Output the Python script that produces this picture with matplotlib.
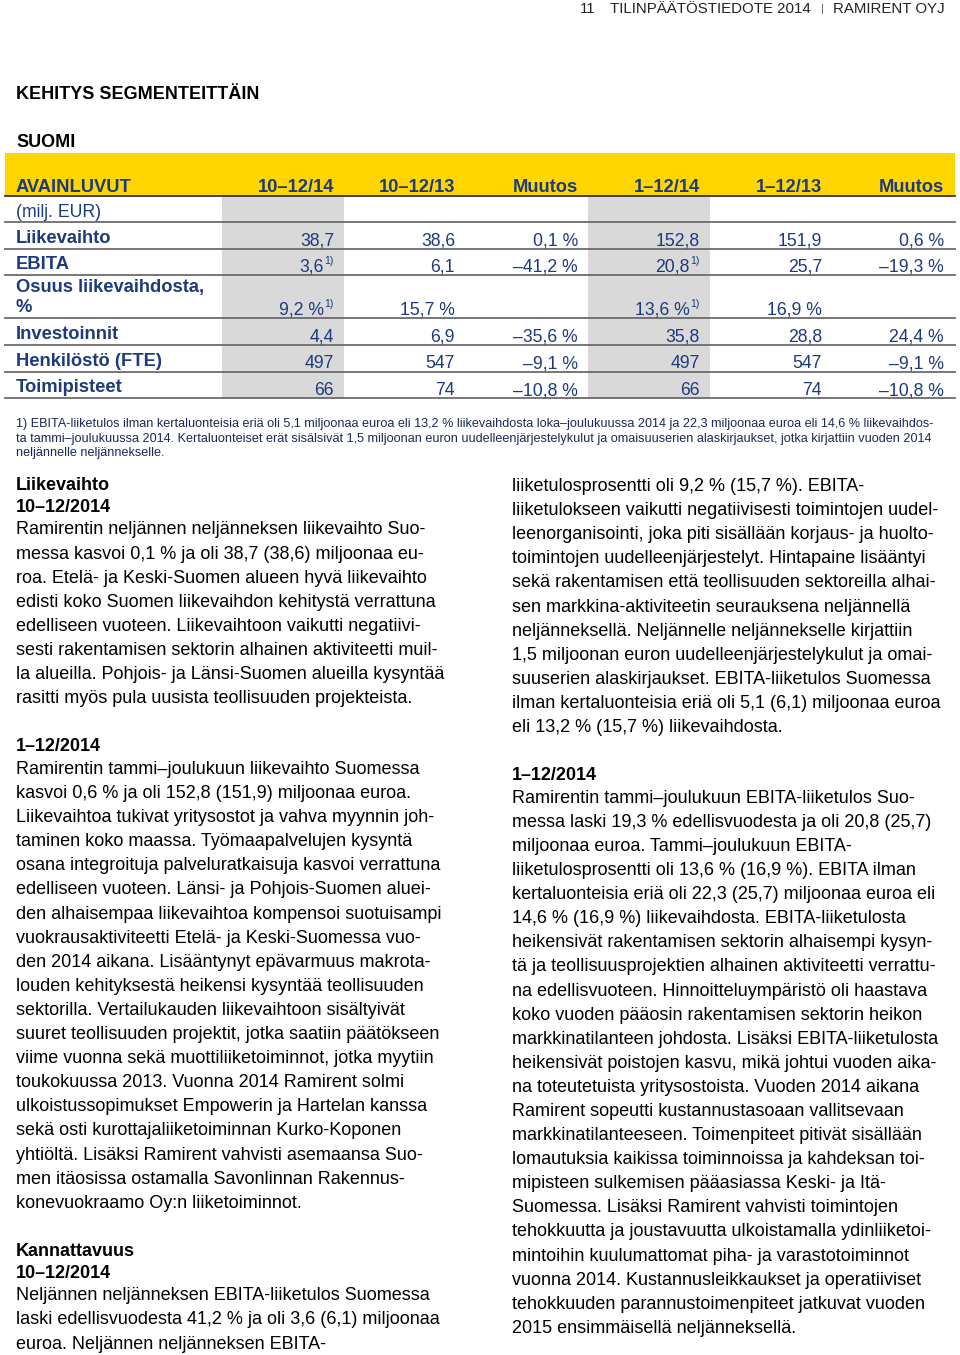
import matplotlib
matplotlib.use("Agg")
import matplotlib.pyplot as plt

FONT = "Liberation Sans"
NAVY = "#1c3a7c"
YELLOW = "#ffd600"
SHADE = "#d9d9d9"

# ---- table data ----
col_heads = ["10–12/14", "10–12/13", "Muutos", "1–12/14", "1–12/13", "Muutos"]
row_labels = ["Liikevaihto", "EBITA", "Osuus liikevaihdosta,\n%", "Investoinnit",
              "Henkilöstö (FTE)", "Toimipisteet"]
row_kind = ["num", "num", "pct", "num", "int", "int"]
q4_2014 = [38.7, 3.6, 9.2, 4.4, 497, 66]
q4_2013 = [38.6, 6.1, 15.7, 6.9, 547, 74]
q4_change = [0.1, -41.2, None, -35.6, -9.1, -10.8]
fy_2014 = [152.8, 20.8, 13.6, 35.8, 497, 66]
fy_2013 = [151.9, 25.7, 16.9, 28.8, 547, 74]
fy_change = [0.6, -19.3, None, 24.4, -9.1, -10.8]
has_footnote = [False, True, True, False, False, False]  # "1)" on 2014 columns

footnote = [
    "1) EBITA-liiketulos ilman kertaluonteisia eriä oli 5,1 miljoonaa euroa eli 13,2 % liikevaihdosta loka–joulukuussa 2014 ja 22,3 miljoonaa euroa eli 14,6 % liikevaihdos-",
    "ta tammi–joulukuussa 2014. Kertaluonteiset erät sisälsivät 1,5 miljoonan euron uudelleenjärjestelykulut ja omaisuuserien alaskirjaukset, jotka kirjattiin vuoden 2014",
    "neljännelle neljännekselle.",
]

# ---- body text ('#' = bold heading, '' = blank line) ----
left_text = [
    "#Liikevaihto",
    "#10–12/2014",
    "Ramirentin neljännen neljänneksen liikevaihto Suo-",
    "messa kasvoi 0,1 % ja oli 38,7 (38,6) miljoonaa eu-",
    "roa. Etelä- ja Keski-Suomen alueen hyvä liikevaihto",
    "edisti koko Suomen liikevaihdon kehitystä verrattuna",
    "edelliseen vuoteen. Liikevaihtoon vaikutti negatiivi-",
    "sesti rakentamisen sektorin alhainen aktiviteetti muil-",
    "la alueilla. Pohjois- ja Länsi-Suomen alueilla kysyntää",
    "rasitti myös pula uusista teollisuuden projekteista.",
    "",
    "#1–12/2014",
    "Ramirentin tammi–joulukuun liikevaihto Suomessa",
    "kasvoi 0,6 % ja oli 152,8 (151,9) miljoonaa euroa.",
    "Liikevaihtoa tukivat yritysostot ja vahva myynnin joh-",
    "taminen koko maassa. Työmaapalvelujen kysyntä",
    "osana integroituja palveluratkaisuja kasvoi verrattuna",
    "edelliseen vuoteen. Länsi- ja Pohjois-Suomen aluei-",
    "den alhaisempaa liikevaihtoa kompensoi suotuisampi",
    "vuokrausaktiviteetti Etelä- ja Keski-Suomessa vuo-",
    "den 2014 aikana. Lisääntynyt epävarmuus makrota-",
    "louden kehityksestä heikensi kysyntää teollisuuden",
    "sektorilla. Vertailukauden liikevaihtoon sisältyivät",
    "suuret teollisuuden projektit, jotka saatiin päätökseen",
    "viime vuonna sekä muottiliiketoiminnot, jotka myytiin",
    "toukokuussa 2013. Vuonna 2014 Ramirent solmi",
    "ulkoistussopimukset Empowerin ja Hartelan kanssa",
    "sekä osti kurottajaliiketoiminnan Kurko-Koponen",
    "yhtiöltä. Lisäksi Ramirent vahvisti asemaansa Suo-",
    "men itäosissa ostamalla Savonlinnan Rakennus-",
    "konevuokraamo Oy:n liiketoiminnot.",
    "",
    "#Kannattavuus",
    "#10–12/2014",
    "Neljännen neljänneksen EBITA-liiketulos Suomessa",
    "laski edellisvuodesta 41,2 % ja oli 3,6 (6,1) miljoonaa",
    "euroa. Neljännen neljänneksen EBITA-",
]

right_text = [
    "liiketulosprosentti oli 9,2 % (15,7 %). EBITA-",
    "liiketulokseen vaikutti negatiivisesti toimintojen uudel-",
    "leenorganisointi, joka piti sisällään korjaus- ja huolto-",
    "toimintojen uudelleenjärjestelyt. Hintapaine lisääntyi",
    "sekä rakentamisen että teollisuuden sektoreilla alhai-",
    "sen markkina-aktiviteetin seurauksena neljännellä",
    "neljänneksellä. Neljännelle neljännekselle kirjattiin",
    "1,5 miljoonan euron uudelleenjärjestelykulut ja omai-",
    "suuserien alaskirjaukset. EBITA-liiketulos Suomessa",
    "ilman kertaluonteisia eriä oli 5,1 (6,1) miljoonaa euroa",
    "eli 13,2 % (15,7 %) liikevaihdosta.",
    "",
    "#1–12/2014",
    "Ramirentin tammi–joulukuun EBITA-liiketulos Suo-",
    "messa laski 19,3 % edellisvuodesta ja oli 20,8 (25,7)",
    "miljoonaa euroa. Tammi–joulukuun EBITA-",
    "liiketulosprosentti oli 13,6 % (16,9 %). EBITA ilman",
    "kertaluonteisia eriä oli 22,3 (25,7) miljoonaa euroa eli",
    "14,6 % (16,9 %) liikevaihdosta. EBITA-liiketulosta",
    "heikensivät rakentamisen sektorin alhaisempi kysyn-",
    "tä ja teollisuusprojektien alhainen aktiviteetti verrattu-",
    "na edellisvuoteen. Hinnoitteluympäristö oli haastava",
    "koko vuoden pääosin rakentamisen sektorin heikon",
    "markkinatilanteen johdosta. Lisäksi EBITA-liiketulosta",
    "heikensivät poistojen kasvu, mikä johtui vuoden aika-",
    "na toteutetuista yritysostoista. Vuoden 2014 aikana",
    "Ramirent sopeutti kustannustasoaan vallitsevaan",
    "markkinatilanteeseen. Toimenpiteet pitivät sisällään",
    "lomautuksia kaikissa toiminnoissa ja kahdeksan toi-",
    "mipisteen sulkemisen pääasiassa Keski- ja Itä-",
    "Suomessa. Lisäksi Ramirent vahvisti toimintojen",
    "tehokkuutta ja joustavuutta ulkoistamalla ydinliiketoi-",
    "mintoihin kuulumattomat piha- ja varastotoiminnot",
    "vuonna 2014. Kustannusleikkaukset ja operatiiviset",
    "tehokkuuden parannustoimenpiteet jatkuvat vuoden",
    "2015 ensimmäisellä neljänneksellä.",
]


def fmt(v, kind):
    if v is None:
        return ""
    if kind == "int":
        return str(int(v))
    s = f"{abs(v):.1f}".replace(".", ",")
    if v < 0:
        s = "–" + s
    if kind == "pct":
        s += " %"
    return s


def draw_column(ax, x, lines, y0, size=13):
    steps = {("h", "h"): 22, ("h", "p"): 22.5, ("p", "p"): 24.1, ("p", "h"): 24.1}
    y = y0
    prev = None
    for line in lines:
        if line == "":
            y += 24.1
            continue
        kind = "h" if line.startswith("#") else "p"
        if prev is not None:
            y += steps[(prev, kind)]
        ax.text(x, y, line.lstrip("#"), fontsize=size, family=FONT, va="baseline",
                fontweight="bold" if kind == "h" else "normal", color="black")
        prev = kind


fig = plt.figure(figsize=(9.6, 13.55), dpi=100)
ax = fig.add_axes([0, 0, 1, 1])
ax.set_xlim(0, 960)
ax.set_ylim(1355, 0)
ax.axis("off")

# page header
hdr = dict(fontsize=10.8, family=FONT, color="#222222", va="baseline")
ax.text(580, 13, "11", **hdr)
ax.text(610, 13, "TILINPÄÄTÖSTIEDOTE 2014", **hdr)
ax.text(821, 12, "|", fontsize=8, family=FONT, color="#555555", va="baseline")
ax.text(945, 13, "RAMIRENT OYJ", ha="right", **hdr)

ax.text(16, 99, "KEHITYS SEGMENTEITTÄIN", fontsize=13, family=FONT, fontweight="bold", va="baseline")
ax.text(16, 147, "SUOMI", fontsize=13, family=FONT, fontweight="bold", va="baseline")

# table
col_right = [334, 455, 578, 700, 822, 944]
shaded = [0, 3]
columns = [q4_2014, q4_2013, q4_change, fy_2014, fy_2013, fy_change]
band_top, head_line, unit_line = 153, 196, 222
LAB = 13.2
NUM = 12.7

ax.fill_between([5, 955], band_top, head_line, color=YELLOW, lw=0)
ax.text(16, 192, "AVAINLUVUT", fontsize=LAB, family=FONT, fontweight="bold", color=NAVY, va="baseline")
for xr, h in zip(col_right, col_heads):
    ax.text(xr, 192, h, fontsize=LAB, family=FONT, fontweight="bold", color=NAVY,
            ha="right", va="baseline")
ax.text(16, 217, "(milj. EUR)", fontsize=NUM, family=FONT, color=NAVY, va="baseline")

# row boundaries
bottoms = []
y = unit_line
for lab in row_labels:
    y += 26.7 + 16.3 * (lab.count("\n"))
    bottoms.append(y)

for c in shaded:
    ax.fill_between([col_right[c] - 112, col_right[c] + 10], head_line, bottoms[-1],
                    color=SHADE, lw=0, zorder=0)

ax.plot([5, 955], [head_line, head_line], color="#333333", lw=1.3)
for yb in [unit_line] + bottoms:
    ax.plot([5, 955], [yb, yb], color="#6b6b6b", lw=1.3)

for i, lab in enumerate(row_labels):
    yb = bottoms[i]
    parts = lab.split("\n")
    for k, part in enumerate(reversed(parts)):
        ax.text(16, yb - 6 - 20 * k, part, fontsize=LAB, family=FONT, fontweight="bold",
                color=NAVY, va="baseline")
    for j, col in enumerate(columns):
        kind = row_kind[i] if j not in (2, 5) else "pct"
        s = fmt(col[i], kind)
        xr = col_right[j]
        if has_footnote[i] and j in (0, 3):
            ax.text(xr, yb - 11.5, "1)", fontsize=7.5, family=FONT, color=NAVY,
                    ha="right", va="baseline")
            xr -= 10
        ax.text(xr, yb - 3.5, s, fontsize=NUM, family=FONT, color=NAVY,
                ha="right", va="baseline")

for k, line in enumerate(footnote):
    ax.text(16, 427 + 14.6 * k, line, fontsize=9.1, family=FONT, color="#1a2a57", va="baseline")

draw_column(ax, 16, left_text, 490)
draw_column(ax, 512, right_text, 491)

fig.savefig("out.png", dpi=100)
